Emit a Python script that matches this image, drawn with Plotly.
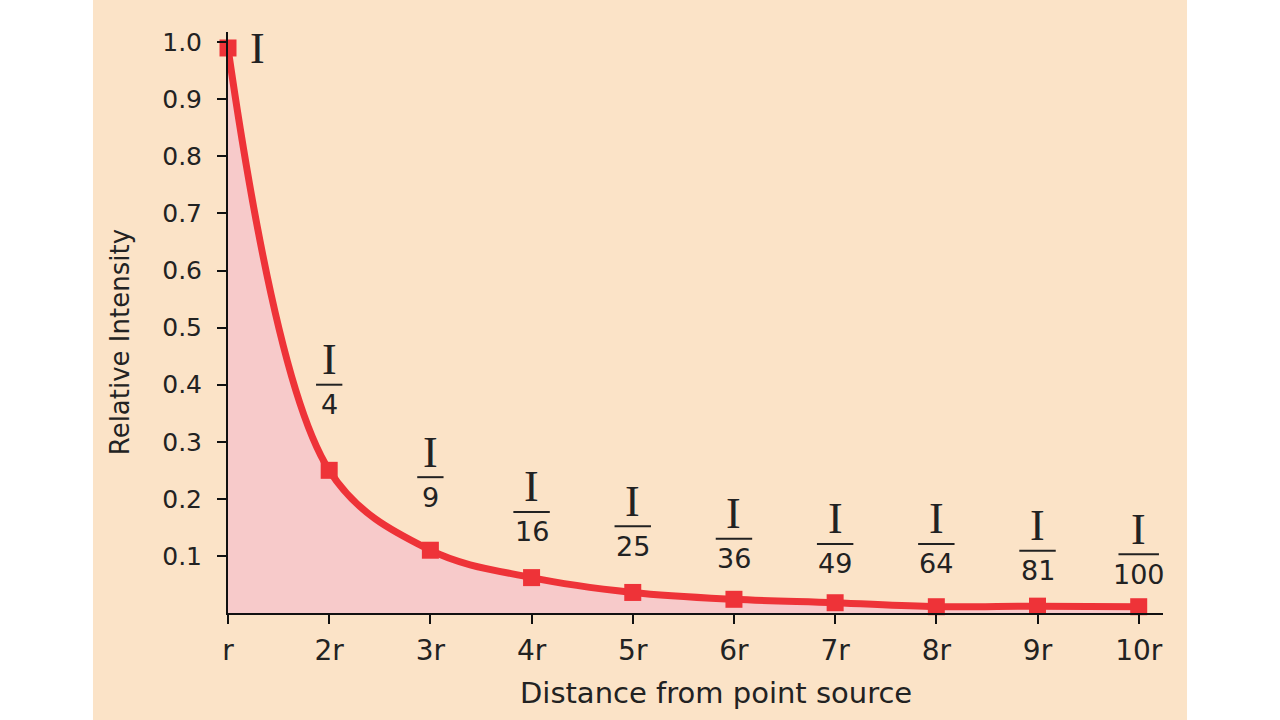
import plotly.graph_objects as go

# Data
distance = [1, 2, 3, 4, 5, 6, 7, 8, 9, 10]
tick_labels = ["r", "2r", "3r", "4r", "5r", "6r", "7r", "8r", "9r", "10r"]
intensity = [0.99, 0.25, 0.11, 0.062, 0.036, 0.024, 0.018, 0.011, 0.012, 0.011]
denominators = ["", "4", "9", "16", "25", "36", "49", "64", "81", "100"]
y_ticks = [0.1, 0.2, 0.3, 0.4, 0.5, 0.6, 0.7, 0.8, 0.9, 1.0]
y_tick_text = ["0.1", "0.2", "0.3", "0.4", "0.5", "0.6", "0.7", "0.8", "0.9", "1.0"]
# fraction-bar heights of the labels, in axis units
label_bar_y = [None, 0.400, 0.238, 0.177, 0.152, 0.130, 0.121, 0.121, 0.109, 0.103]

RED = "#EE3338"
FILL = "rgba(246,198,202,0.9)"
PEACH = "#FBE3C7"
TXT = "#222222"
SANS = "DejaVu Sans, Arial, sans-serif"
SERIF = "Liberation Serif, Times New Roman, serif"

fig = go.Figure()
fig.add_trace(go.Scatter(
    x=distance, y=intensity, mode="lines+markers",
    line=dict(color=RED, width=7, shape="spline", smoothing=1.0),
    marker=dict(symbol="square", size=17, color=RED),
    fill="tozeroy", fillcolor=FILL, cliponaxis=False, hoverinfo="skip",
))

annotations = []
shapes = [dict(type="rect", xref="paper", yref="paper", x0=-0.1444, x1=1.0257,
               y0=-0.3, y1=1.2, fillcolor=PEACH, line_width=0, layer="below")]

# Label "I" beside the first point
annotations.append(dict(x=distance[0], y=intensity[0], xref="x", yref="y", text="I",
                        showarrow=False, xshift=29, yshift=-1,
                        font=dict(family=SERIF, size=44, color=TXT)))

for xi, den, by in zip(distance, denominators, label_bar_y):
    if not den:
        continue
    annotations.append(dict(x=xi, y=by, xref="x", yref="y", text="I", showarrow=False,
                            yshift=25, font=dict(family=SERIF, size=44, color=TXT)))
    annotations.append(dict(x=xi, y=by, xref="x", yref="y", text=den, showarrow=False,
                            yshift=-20, font=dict(family=SANS, size=27, color=TXT)))
    half = {1: 0.13, 2: 0.18, 3: 0.20}[len(den)]
    shapes.append(dict(type="line", xref="x", yref="y", x0=xi - half, x1=xi + half,
                       y0=by, y1=by, line=dict(color=TXT, width=2)))

annotations.append(dict(x=-0.1155, y=0.466, xref="paper", yref="paper",
                        xanchor="center", yanchor="middle", text="Relative Intensity",
                        textangle=-90, showarrow=False,
                        font=dict(family=SANS, size=26, color=TXT)))
annotations.append(dict(x=0.522, y=-0.1377, xref="paper", yref="paper",
                        xanchor="center", yanchor="middle",
                        text="Distance from point source", showarrow=False,
                        font=dict(family=SANS, size=29, color=TXT)))

fig.update_layout(
    width=1280, height=720,
    margin=dict(l=228, r=117, t=32, b=107),
    paper_bgcolor="white", plot_bgcolor="rgba(0,0,0,0)",
    showlegend=False, shapes=shapes, annotations=annotations,
    font=dict(family=SANS, color=TXT),
)
fig.update_xaxes(range=[1, 10.24], tickvals=distance, ticktext=tick_labels,
                 showline=True, linecolor="#111", linewidth=2, showgrid=False,
                 zeroline=False, ticks="outside", ticklen=9, tickwidth=2, tickcolor="#111",
                 tickfont=dict(family=SANS, size=28, color=TXT), ticklabelstandoff=2)
fig.update_yaxes(range=[0, 1.018], tickvals=y_ticks, ticktext=y_tick_text,
                 showline=True, linecolor="#111", linewidth=2, showgrid=False,
                 zeroline=False, ticks="outside", ticklen=9, tickwidth=2, tickcolor="#111",
                 tickfont=dict(family=SANS, size=25, color=TXT), ticklabelstandoff=10)

fig.write_html("out.html")
